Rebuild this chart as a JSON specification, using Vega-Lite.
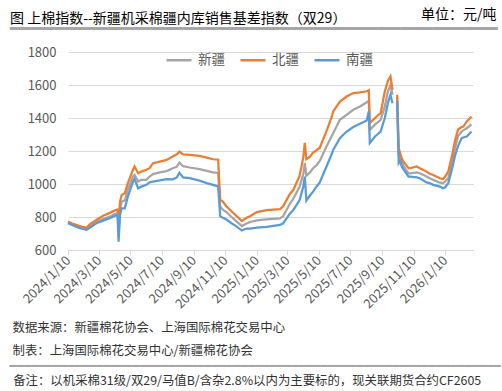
{
  "$schema": "https://vega.github.io/schema/vega-lite/v6.json",
  "width": 405,
  "height": 198,
  "autosize": {"type": "none"},
  "padding": {"left": 68, "top": 52, "right": 29, "bottom": 141},
  "background": "white",
  "config": {"font": "Noto Sans CJK SC", "view": {"stroke": null}},
  "title": {
    "text": "图 上棉指数--新疆机采棉疆内库销售基差指数（双29）",
    "subtitle": "━━━━━━━━━━━━━━━━━━━━━━━━━━━━━━━━━━━━━━━━━━━━━",
    "anchor": "start",
    "frame": "group",
    "dx": -58,
    "dy": 31,
    "offset": 0,
    "fontSize": 14,
    "fontWeight": "normal",
    "color": "#000000",
    "subtitleFont": "DejaVu Sans Mono",
    "subtitleFontSize": 18,
    "subtitleColor": "#A6A6A6",
    "subtitlePadding": -5
  },
  "data": {
    "values": [
      {"d": "2024-01-10", "新疆": 768, "北疆": 772, "南疆": 762},
      {"d": "2024-01-20", "新疆": 752, "北疆": 758, "南疆": 748},
      {"d": "2024-02-02", "新疆": 740, "北疆": 745, "南疆": 733},
      {"d": "2024-02-15", "新疆": 728, "北疆": 735, "南疆": 722},
      {"d": "2024-02-21", "新疆": 742, "北疆": 755, "南疆": 735},
      {"d": "2024-03-05", "新疆": 770, "北疆": 782, "南疆": 762},
      {"d": "2024-03-18", "新疆": 788, "北疆": 808, "南疆": 778},
      {"d": "2024-03-31", "新疆": 802, "北疆": 825, "南疆": 792},
      {"d": "2024-04-10", "新疆": 818, "北疆": 840, "南疆": 808},
      {"d": "2024-04-15", "新疆": 823, "北疆": 845, "南疆": 812},
      {"d": "2024-04-17", "新疆": 721, "北疆": 772, "南疆": 650},
      {"d": "2024-04-20", "新疆": 850, "北疆": 895, "南疆": 815},
      {"d": "2024-04-23", "新疆": 893, "北疆": 934, "南疆": 853},
      {"d": "2024-04-29", "新疆": 900, "北疆": 944, "南疆": 853},
      {"d": "2024-05-05", "新疆": 964, "北疆": 1005, "南疆": 923},
      {"d": "2024-05-15", "新疆": 1045, "北疆": 1086, "南疆": 1015},
      {"d": "2024-05-18", "新疆": 1055, "北疆": 1106, "南疆": 1030},
      {"d": "2024-05-25", "新疆": 1015, "北疆": 1065, "南疆": 974},
      {"d": "2024-05-31", "新疆": 1025, "北疆": 1075, "南疆": 984},
      {"d": "2024-06-10", "新疆": 1025, "北疆": 1086, "南疆": 995},
      {"d": "2024-06-16", "新疆": 1045, "北疆": 1096, "南疆": 1010},
      {"d": "2024-06-23", "新疆": 1060, "北疆": 1126, "南疆": 1015},
      {"d": "2024-07-06", "新疆": 1070, "北疆": 1136, "南疆": 1022},
      {"d": "2024-07-19", "新疆": 1078, "北疆": 1146, "南疆": 1030},
      {"d": "2024-07-31", "新疆": 1095, "北疆": 1166, "南疆": 1028},
      {"d": "2024-08-08", "新疆": 1105, "北疆": 1180, "南疆": 1040},
      {"d": "2024-08-13", "新疆": 1130, "北疆": 1197, "南疆": 1068},
      {"d": "2024-08-20", "新疆": 1108, "北疆": 1180, "南疆": 1040},
      {"d": "2024-09-02", "新疆": 1100, "北疆": 1177, "南疆": 1035},
      {"d": "2024-09-21", "新疆": 1090, "北疆": 1170, "南疆": 1020},
      {"d": "2024-10-05", "新疆": 1080, "北疆": 1160, "南疆": 1005},
      {"d": "2024-10-17", "新疆": 1070, "北疆": 1150, "南疆": 995},
      {"d": "2024-10-27", "新疆": 1067, "北疆": 1148, "南疆": 986},
      {"d": "2024-10-31", "新疆": 863, "北疆": 905, "南疆": 805},
      {"d": "2024-11-05", "新疆": 845, "北疆": 893, "南疆": 795},
      {"d": "2024-11-12", "新疆": 830, "北疆": 865, "南疆": 785},
      {"d": "2024-11-22", "新疆": 800, "北疆": 835, "南疆": 762},
      {"d": "2024-12-02", "新疆": 772, "北疆": 805, "南疆": 742},
      {"d": "2024-12-12", "新疆": 745, "北疆": 775, "南疆": 718},
      {"d": "2024-12-21", "新疆": 760, "北疆": 795, "南疆": 730},
      {"d": "2024-12-28", "新疆": 770, "北疆": 805, "南疆": 730},
      {"d": "2025-01-10", "新疆": 780, "北疆": 830, "南疆": 736},
      {"d": "2025-01-29", "新疆": 785, "北疆": 842, "南疆": 740},
      {"d": "2025-02-24", "新疆": 792, "北疆": 848, "南疆": 752},
      {"d": "2025-03-02", "新疆": 805, "北疆": 865, "南疆": 762},
      {"d": "2025-03-15", "新疆": 880, "北疆": 940, "南疆": 820},
      {"d": "2025-03-22", "新疆": 912, "北疆": 965, "南疆": 843},
      {"d": "2025-04-03", "新疆": 984, "北疆": 1050, "南疆": 903},
      {"d": "2025-04-10", "新疆": 1060, "北疆": 1160, "南疆": 985},
      {"d": "2025-04-13", "新疆": 1126, "北疆": 1250, "南疆": 1045},
      {"d": "2025-04-16", "新疆": 1050, "北疆": 1150, "南疆": 900},
      {"d": "2025-04-23", "新疆": 1070, "北疆": 1166, "南疆": 930},
      {"d": "2025-04-29", "新疆": 1096, "北疆": 1190, "南疆": 954},
      {"d": "2025-05-06", "新疆": 1115, "北疆": 1205, "南疆": 985},
      {"d": "2025-05-12", "新疆": 1140, "北疆": 1220, "南疆": 1010},
      {"d": "2025-05-25", "新疆": 1227, "北疆": 1320, "南疆": 1106},
      {"d": "2025-06-04", "新疆": 1290, "北疆": 1405, "南疆": 1180},
      {"d": "2025-06-07", "新疆": 1308, "北疆": 1440, "南疆": 1207},
      {"d": "2025-06-20", "新疆": 1389, "北疆": 1500, "南疆": 1278},
      {"d": "2025-07-03", "新疆": 1419, "北疆": 1530, "南疆": 1318},
      {"d": "2025-07-16", "新疆": 1450, "北疆": 1551, "南疆": 1345},
      {"d": "2025-07-29", "新疆": 1470, "北疆": 1555, "南疆": 1365},
      {"d": "2025-08-11", "新疆": 1495, "北疆": 1562, "南疆": 1385},
      {"d": "2025-08-15", "新疆": 1505, "北疆": 1568, "南疆": 1440},
      {"d": "2025-08-17", "新疆": 1328, "北疆": 1369, "南疆": 1248},
      {"d": "2025-08-27", "新疆": 1360, "北疆": 1400, "南疆": 1288},
      {"d": "2025-09-07", "新疆": 1389, "北疆": 1430, "南疆": 1318},
      {"d": "2025-09-15", "新疆": 1470, "北疆": 1560, "南疆": 1400},
      {"d": "2025-09-21", "新疆": 1560, "北疆": 1625, "南疆": 1490},
      {"d": "2025-09-26", "新疆": 1600, "北疆": 1652, "南疆": 1541},
      {"d": "2025-09-30", "新疆": 1541, "北疆": 1571, "南疆": 1490},
      {"d": "2025-10-04", "新疆": null, "北疆": null, "南疆": null},
      {"d": "2025-10-09", "新疆": 1521, "北疆": 1541, "南疆": 1500},
      {"d": "2025-10-12", "新疆": 1180, "北疆": 1217, "南疆": 1126},
      {"d": "2025-10-15", "新疆": 1160, "北疆": 1185, "南疆": 1140},
      {"d": "2025-10-18", "新疆": 1130, "北疆": 1155, "南疆": 1105},
      {"d": "2025-10-21", "新疆": 1110, "北疆": 1136, "南疆": 1090},
      {"d": "2025-10-31", "新疆": 1065, "北疆": 1096, "南疆": 1045},
      {"d": "2025-11-03", "新疆": 1065, "北疆": 1096, "南疆": 1045},
      {"d": "2025-11-16", "新疆": 1070, "北疆": 1106, "南疆": 1040},
      {"d": "2025-11-22", "新疆": 1065, "北疆": 1096, "南疆": 1035},
      {"d": "2025-12-05", "新疆": 1045, "北疆": 1075, "南疆": 1010},
      {"d": "2025-12-11", "新疆": 1035, "北疆": 1062, "南疆": 1005},
      {"d": "2025-12-18", "新疆": 1025, "北疆": 1055, "南疆": 995},
      {"d": "2025-12-31", "新疆": 1008, "北疆": 1035, "南疆": 984},
      {"d": "2026-01-06", "新疆": 1005, "北疆": 1030, "南疆": 974},
      {"d": "2026-01-10", "新疆": 1015, "北疆": 1045, "南疆": 980},
      {"d": "2026-01-16", "新疆": 1035, "北疆": 1075, "南疆": 1005},
      {"d": "2026-01-23", "新疆": 1126, "北疆": 1166, "南疆": 1086},
      {"d": "2026-01-29", "新疆": 1215, "北疆": 1260, "南疆": 1170},
      {"d": "2026-02-04", "新疆": 1290, "北疆": 1330, "南疆": 1230},
      {"d": "2026-02-11", "新疆": 1318, "北疆": 1345, "南疆": 1278},
      {"d": "2026-02-14", "新疆": 1325, "北疆": 1348, "南疆": 1282},
      {"d": "2026-02-21", "新疆": 1338, "北疆": 1379, "南疆": 1288},
      {"d": "2026-03-02", "新疆": 1362, "北疆": 1409, "南疆": 1318}
    ]
  },
  "transform": [{"fold": ["新疆", "北疆", "南疆"], "as": ["s", "v"]}],
  "layer": [
    {
      "transform": [{"filter": {"field": "s", "oneOf": ["新疆", "北疆"]}}],
      "mark": {"type": "line", "strokeWidth": 2.25, "invalid": "break-paths-filter-domains"},
      "encoding": {
        "x": {
          "field": "d",
          "type": "temporal",
          "scale": {"type": "utc", "domain": [{"year": 2024, "month": 1, "date": 10, "utc": true}, {"year": 2026, "month": 3, "date": 5, "utc": true}]},
          "axis": {
            "values": [
              {"year": 2024, "month": 1, "date": 10, "utc": true},
              {"year": 2024, "month": 3, "date": 10, "utc": true},
              {"year": 2024, "month": 5, "date": 10, "utc": true},
              {"year": 2024, "month": 7, "date": 10, "utc": true},
              {"year": 2024, "month": 9, "date": 10, "utc": true},
              {"year": 2024, "month": 11, "date": 10, "utc": true},
              {"year": 2025, "month": 1, "date": 10, "utc": true},
              {"year": 2025, "month": 3, "date": 10, "utc": true},
              {"year": 2025, "month": 5, "date": 10, "utc": true},
              {"year": 2025, "month": 7, "date": 10, "utc": true},
              {"year": 2025, "month": 9, "date": 10, "utc": true},
              {"year": 2025, "month": 11, "date": 10, "utc": true},
              {"year": 2026, "month": 1, "date": 10, "utc": true}
            ],
            "format": "%Y/%-m/%-d",
            "labelAngle": -45,
            "labelAlign": "right",
            "labelBaseline": "middle",
            "labelFontSize": 13,
            "labelColor": "#595959",
            "labelPadding": 3,
            "labelOverlap": false,
            "labelFlush": false,
            "tickSize": 5,
            "tickColor": "#D9D9D9",
            "domainColor": "#D9D9D9",
            "grid": false,
            "title": ["数据来源：新疆棉花协会、上海国际棉花交易中心", "制表：上海国际棉花交易中心/新疆棉花协会"],
            "titleX": -56,
            "titleY": 81.5,
            "titleAlign": "left",
            "titleAnchor": "start",
            "titleBaseline": "alphabetic",
            "titleFontSize": 12.4,
            "titleFontWeight": "normal",
            "titleColor": "#333333",
            "titleLineHeight": 23.3
          }
        },
        "y": {
          "field": "v",
          "type": "quantitative",
          "scale": {"domain": [600, 1800], "nice": false, "zero": false},
          "axis": {
            "values": [600, 800, 1000, 1200, 1400, 1600, 1800],
            "format": "d",
            "domain": false,
            "ticks": false,
            "grid": true,
            "gridColor": "#D9D9D9",
            "labelFontSize": 13,
            "labelColor": "#595959",
            "labelPadding": 12,
            "title": "单位：元/吨",
            "titleAngle": 0,
            "titleAlign": "right",
            "titleBaseline": "alphabetic",
            "titleX": 428,
            "titleY": -33.4,
            "titleFontSize": 14,
            "titleFontWeight": "normal",
            "titleColor": "#000000"
          }
        },
        "color": {
          "field": "s",
          "type": "nominal",
          "scale": {"domain": ["新疆", "北疆", "南疆"], "range": ["#A5A5A5", "#ED7D31", "#5B9BD5"]},
          "legend": {
            "title": null,
            "orient": "none",
            "legendX": 97,
            "legendY": -6,
            "direction": "horizontal",
            "symbolType": "stroke",
            "symbolSize": 625,
            "symbolStrokeWidth": 2.5,
            "labelFontSize": 13.5,
            "labelColor": "#595959",
            "labelOffset": 5,
            "columnPadding": 10
          }
        }
      }
    },
    {
      "transform": [{"filter": {"field": "s", "equal": "南疆"}}],
      "mark": {"type": "line", "strokeWidth": 2.25, "invalid": "break-paths-filter-domains"},
      "encoding": {
        "x": {
          "field": "d",
          "type": "temporal",
          "axis": {
            "orient": "top",
            "labels": false,
            "ticks": false,
            "domain": false,
            "grid": false,
            "title": "━━━━━━━━━━━━━━━━━━━━━━━━━━━━━━━━━━━━━━━━━━━━━━━━━━━━━━━━━━━━━━━━━━━━",
            "titleX": -59,
            "titleY": 313,
            "titleAlign": "left",
            "titleBaseline": "middle",
            "titleFont": "DejaVu Sans Mono",
            "titleFontSize": 12,
            "titleFontWeight": "normal",
            "titleColor": "#A6A6A6"
          }
        },
        "y": {
          "field": "v",
          "type": "quantitative",
          "axis": {
            "orient": "right",
            "labels": false,
            "ticks": false,
            "domain": false,
            "grid": false,
            "title": "备注：以机采棉31级/双29/马值B/含杂2.8%以内为主要标的，现关联期货合约CF2605",
            "titleAngle": 0,
            "titleAlign": "left",
            "titleBaseline": "alphabetic",
            "titleX": -460.3,
            "titleY": 332.7,
            "titleFontSize": 12.4,
            "titleFontWeight": "normal",
            "titleColor": "#333333"
          }
        },
        "color": {
          "field": "s",
          "type": "nominal",
          "legend": {
            "title": null,
            "orient": "none",
            "legendX": 97,
            "legendY": -6,
            "direction": "horizontal",
            "symbolType": "stroke",
            "symbolSize": 625,
            "symbolStrokeWidth": 2.5,
            "labelFontSize": 13.5,
            "labelColor": "#595959",
            "labelOffset": 5,
            "columnPadding": 10
          }
        }
      }
    }
  ],
  "resolve": {"axis": {"x": "independent", "y": "independent"}}
}
